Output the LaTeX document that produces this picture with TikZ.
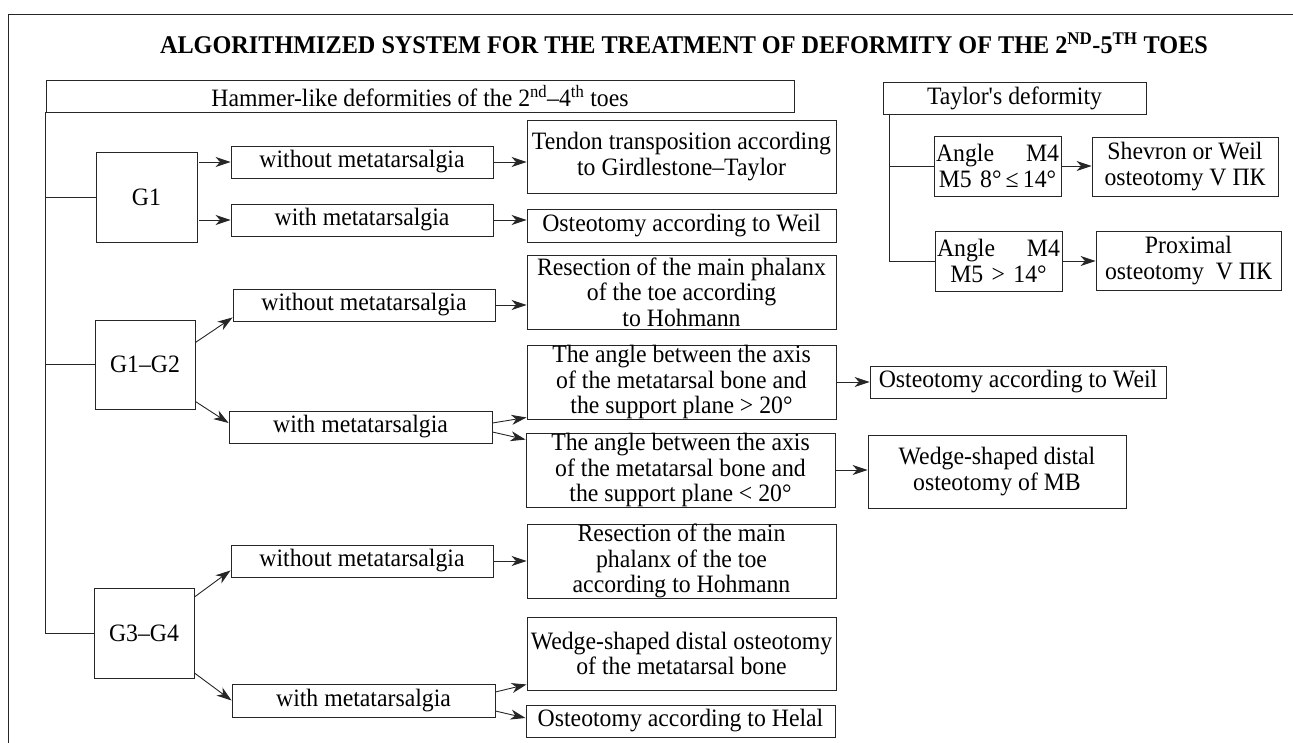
\documentclass[tikz,border=0pt]{standalone}
\usepackage{fontspec}
\setmainfont{Liberation Serif}[FakeStretch=0.95]
\usetikzlibrary{arrows.meta}
\begin{document}
\begin{tikzpicture}[x=1pt,y=-1pt,
  ln/.style={draw=black!85, line width=0.9pt},
  bx/.style={ln, align=center, inner xsep=1pt, inner ysep=0pt, font=\fontsize{25}{25.5}\selectfont},
  arr/.style={ln, -{Stealth[length=15pt,width=10pt,inset=4.5pt]}},
  ttl/.style={font=\bfseries\fontsize{25.5}{26}\selectfont, inner sep=0pt}
]
\useasboundingbox (0,0) rectangle (1293,743);
% frame
\draw[ln] (1293,14) -- (8,14) -- (8,743);
% title
\node[ttl] (title) at (684,43) {ALGORITHMIZED SYSTEM FOR THE TREATMENT OF DEFORMITY OF THE 2\textsuperscript{ND}-5\textsuperscript{TH} TOES};

% headers
\node[bx, minimum width=748pt, minimum height=32pt] (hammer) at (420,96) {Hammer-like deformities of the 2\textsuperscript{nd}--4\textsuperscript{th} toes};
\node[bx, minimum width=263pt, minimum height=32pt] (taylor) at (1014.5,98) {Taylor\textquotesingle s deformity};

% Taylor branch
\node[bx, minimum width=127pt, minimum height=60pt, text width=123pt] (ang1) at (997.5,166) {\hbox to 123pt{Angle\hfill M4}\\ \mbox{M5 8°\,≤\,14°}};
\node[bx, minimum width=186pt, minimum height=59pt] (shev) at (1185,166.5) {Shevron or Weil\\ osteotomy V ПК};
\node[bx, minimum width=127pt, minimum height=60pt, text width=123pt] (ang2) at (998.5,261) {\hbox to 123pt{Angle\hfill M4}\\ M5 > 14°};
\node[bx, minimum width=185pt, minimum height=59pt] (prox) at (1188.5,260.5) {Proximal\\ osteotomy~ V ПК};
\coordinate (tt) at ([xshift=7pt]taylor.south west);
\draw[ln] (tt) |- (ang2.west);
\draw[ln] (tt |- ang1.west) -- (ang1.west);
\draw[arr] (ang1.east) -- (ang1.east -| shev.west);
\draw[arr] (ang2.east) -- (ang2.east -| prox.west);

% grades
\node[bx, minimum width=101pt, minimum height=90pt] (g1) at (146.5,197) {G1};
\node[bx, minimum width=100pt, minimum height=89pt] (g12) at (145,364.5) {G1--G2};
\node[bx, minimum width=100pt, minimum height=90pt] (g34) at (144,633) {G3--G4};
\draw[ln] (hammer.south west) |- (g34.west);
\draw[ln] (hammer.south west |- g1.west) -- (g1.west);
\draw[ln] (hammer.south west |- g12.west) -- (g12.west);

% G1
\node[bx, minimum width=262pt, minimum height=32pt] (w1) at (362,162) {without metatarsalgia};
\node[bx, minimum width=262pt, minimum height=32pt] (m1) at (362,220) {with metatarsalgia};
\node[bx, minimum width=309pt, minimum height=73pt] (tendon) at (681.5,156.5) {Tendon transposition according\\ to Girdlestone--Taylor};
\node[bx, minimum width=309pt, minimum height=33pt] (weil1) at (681.5,225.5) {Osteotomy according to Weil};
\draw[arr] ([xshift=2pt]g1.east |- w1.west) -- (w1.west);
\draw[arr] ([xshift=2pt]g1.east |- m1.west) -- (m1.west);
\draw[arr] (w1.east) -- (w1.east -| tendon.west);
\draw[arr] (m1.east) -- (m1.east -| weil1.west);

% G1-G2
\node[bx, minimum width=262pt, minimum height=32pt] (w2) at (364,305) {without metatarsalgia};
\node[bx, minimum width=309pt, minimum height=74pt] (res1) at (681.5,292) {Resection of the main phalanx\\ of the toe according\\ to Hohmann};
\node[bx, minimum width=263pt, minimum height=32pt] (m2) at (360.5,427) {with metatarsalgia};
\node[bx, minimum width=309pt, minimum height=74pt] (anga) at (681.5,382) {The angle between the axis\\ of the metatarsal bone and\\ the support plane > 20°};
\node[bx, minimum width=309pt, minimum height=74pt] (angb) at (680.5,470) {The angle between the axis\\ of the metatarsal bone and\\ the support plane < 20°};
\node[bx, minimum width=296pt, minimum height=32pt] (weil2) at (1018,382) {Osteotomy according to Weil};
\node[bx, minimum width=258pt, minimum height=73pt] (wedge1) at (997,471.5) {Wedge-shaped distal\\ osteotomy of MB};
\draw[arr] ([yshift=22pt]g12.east) -- ([yshift=4pt]w2.south west);
\draw[arr] ([yshift=-37pt]g12.east) -- ([yshift=4pt]m2.west);
\draw[arr] (w2.east) -- (w2.east -| res1.west);
\draw[arr] ([yshift=4pt]m2.east) -- ([yshift=2pt]anga.south west);
\draw[arr] ([yshift=-5pt]m2.east) -- ([yshift=-7pt]angb.north west);
\draw[arr] (anga.east) -- (anga.east -| weil2.west);
\draw[arr] (angb.east) -- (angb.east -| wedge1.west);

% G3-G4
\node[bx, minimum width=262pt, minimum height=32pt] (w3) at (362,561) {without metatarsalgia};
\node[bx, minimum width=309pt, minimum height=74pt] (res2) at (681.5,561) {Resection of the main\\ phalanx of the toe\\ according to Hohmann};
\node[bx, minimum width=263pt, minimum height=33pt] (m3) at (363.5,700.5) {with metatarsalgia};
\node[bx, minimum width=309pt, minimum height=73pt] (wedge2) at (681.5,653.5) {Wedge-shaped distal osteotomy\\ of the metatarsal bone};
\node[bx, minimum width=309pt, minimum height=32pt] (helal) at (680.5,721) {Osteotomy according to Helal};
\draw[arr] ([yshift=36pt]g34.east) -- ([yshift=7pt]w3.south west);
\draw[arr] ([yshift=-40pt]g34.east) -- (m3.west);
\draw[arr] (w3.east) -- (w3.east -| res2.west);
\draw[arr] ([yshift=8.5pt]m3.east) -- ([yshift=6pt]wedge2.south west);
\draw[arr] ([yshift=-10.5pt]m3.east) -- ([yshift=3pt]helal.west);
\end{tikzpicture}
\end{document}
